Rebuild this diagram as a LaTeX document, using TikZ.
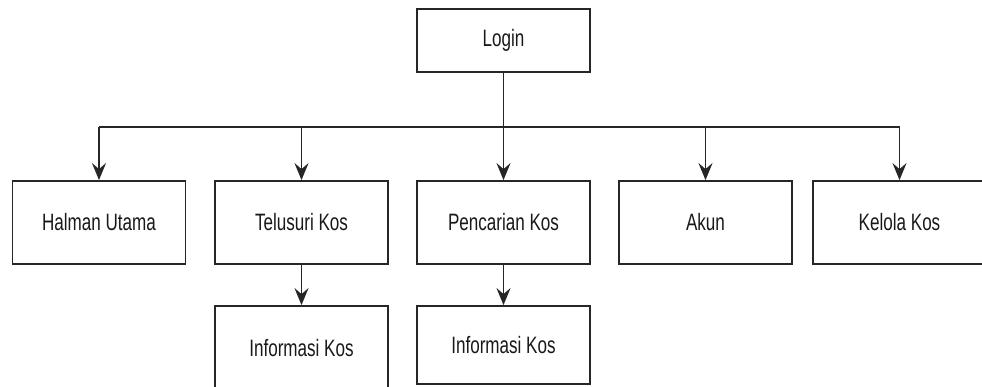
\documentclass[tikz,border=0pt]{standalone}
\usepackage{fontspec}
\setmainfont{Liberation Sans}[FakeStretch=0.72]
\usetikzlibrary{arrows.meta}
\definecolor{linec}{HTML}{262626}
\tikzset{
  box/.style={draw=linec, line width=1.8pt, fill=white, minimum width=173pt, inner sep=0pt,
    font=\fontsize{23.7}{28}\selectfont, text=black!90},
  link/.style={draw=linec, line width=1.8pt},
  arr/.style={link, -{Stealth[length=17pt, width=14pt, inset=6pt]}}
}
\begin{document}
\begin{tikzpicture}[x=1pt, y=-1pt]
\useasboundingbox (0,0) rectangle (982,387);
\clip (0,0) rectangle (982,387);
\fill[white] (0,0) rectangle (982,387);
\node[box, minimum height=63pt] (login) at (503.5,40.5) {Login};
\node[box, minimum height=83pt] (halman) at (99,222.5) {Halman Utama};
\node[box, minimum height=83pt] (telusuri) at (301.5,222.5) {Telusuri Kos};
\node[box, minimum height=83pt] (pencarian) at (503.5,222.5) {Pencarian Kos};
\node[box, minimum height=83pt] (akun) at (705.5,222.5) {Akun};
\node[box, minimum height=83pt] (kelola) at (899.5,222.5) {Kelola Kos};
\node[box, minimum height=84pt] (info1) at (301.5,348) {Informasi Kos};
\node[box, minimum height=78pt] (info2) at (503.5,345) {Informasi Kos};
\coordinate (bus) at (503.5,127);
\draw[link] (login.south) -- (bus);
\draw[link] (halman.north |- bus) -- (kelola.north |- bus);
\draw[arr] (halman.north |- bus) -- (halman.north);
\draw[arr] (telusuri.north |- bus) -- (telusuri.north);
\draw[arr] (bus) -- (pencarian.north);
\draw[arr] (akun.north |- bus) -- (akun.north);
\draw[arr] (kelola.north |- bus) -- (kelola.north);
\draw[arr] (telusuri.south) -- (info1.north);
\draw[arr] (pencarian.south) -- (info2.north);
\end{tikzpicture}
\end{document}
